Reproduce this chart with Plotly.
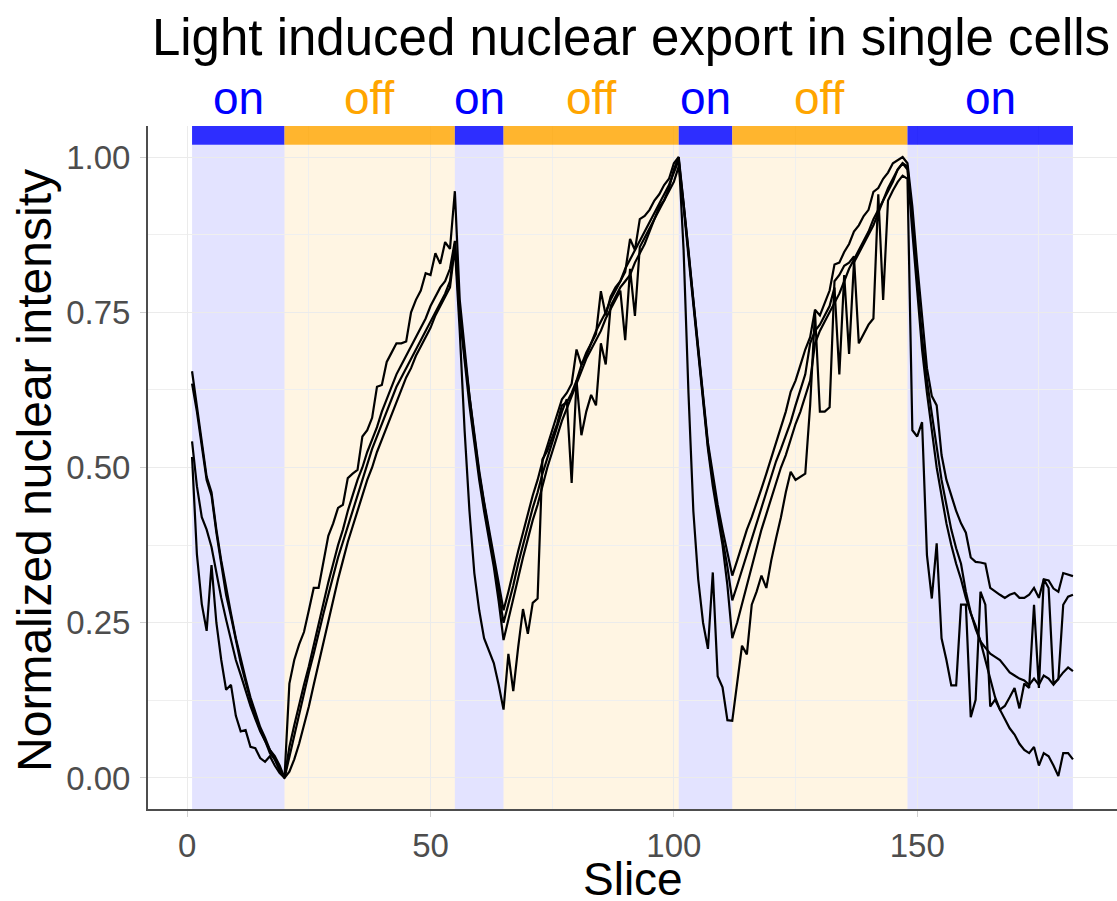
import plotly.graph_objects as go

# ---------------- data ----------------
slices = list(range(1, 183))

cell_1 = [
    0.655, 0.60, 0.54, 0.485, 0.46, 0.40, 0.35, 0.305, 0.265, 0.225,
    0.19, 0.16, 0.13, 0.105, 0.082, 0.065, 0.045, 0.03, 0.015, 0.0,
    0.152, 0.19, 0.215, 0.235, 0.27, 0.306, 0.306, 0.345, 0.39, 0.41,
    0.435, 0.44, 0.483, 0.49, 0.496, 0.55, 0.56, 0.58, 0.63, 0.633,
    0.67, 0.685, 0.70, 0.70, 0.703, 0.75, 0.77, 0.785, 0.813, 0.81,
    0.845, 0.828, 0.863, 0.852, 0.945,
    0.77, 0.69, 0.615, 0.555, 0.495, 0.445, 0.40, 0.36, 0.315, 0.27,
    0.30, 0.335, 0.365, 0.395, 0.425, 0.455, 0.48, 0.51, 0.535, 0.56,
    0.585, 0.61, 0.62, 0.635, 0.69, 0.665, 0.685, 0.70, 0.715, 0.784,
    0.745, 0.775, 0.79, 0.80, 0.815, 0.868, 0.85, 0.90, 0.905, 0.915,
    0.93, 0.94, 0.955, 0.965, 0.99, 1.0,
    0.93, 0.85, 0.77, 0.69, 0.61, 0.54, 0.49, 0.44, 0.40, 0.36, 0.326,
    0.35, 0.375, 0.40, 0.42, 0.445, 0.466, 0.49, 0.515, 0.54, 0.565,
    0.59, 0.622, 0.64, 0.665, 0.69, 0.71, 0.754, 0.745, 0.765, 0.785,
    0.827, 0.83, 0.847, 0.86, 0.88, 0.89, 0.905, 0.915, 0.944, 0.95,
    0.965, 0.975, 0.99, 0.995, 1.0, 0.99,
    0.92, 0.827, 0.74, 0.66, 0.615, 0.60, 0.52, 0.48, 0.455, 0.43,
    0.41, 0.395, 0.355, 0.348, 0.347, 0.345, 0.306, 0.30, 0.295, 0.29,
    0.295, 0.298, 0.29, 0.29, 0.295, 0.306, 0.29, 0.32, 0.318, 0.305,
    0.30, 0.33, 0.328, 0.325,
]

cell_2 = [
    0.635, 0.59, 0.535, 0.48, 0.455, 0.395, 0.345, 0.295, 0.26, 0.22,
    0.185, 0.155, 0.125, 0.10, 0.078, 0.06, 0.045, 0.035, 0.02, 0.0,
    0.05, 0.085, 0.12, 0.15, 0.18, 0.215, 0.25, 0.285, 0.315, 0.345,
    0.375, 0.40, 0.43, 0.455, 0.48, 0.50, 0.525, 0.545, 0.565, 0.59,
    0.61, 0.63, 0.65, 0.665, 0.68, 0.695, 0.71, 0.725, 0.74, 0.76,
    0.775, 0.79, 0.80, 0.82, 0.865,
    0.755, 0.68, 0.61, 0.55, 0.49, 0.44, 0.395, 0.35, 0.30, 0.25,
    0.28, 0.31, 0.345, 0.375, 0.405, 0.435, 0.46, 0.49, 0.515, 0.54,
    0.565, 0.59, 0.61, 0.475, 0.64, 0.665, 0.68, 0.70, 0.72, 0.735,
    0.75, 0.77, 0.785, 0.80, 0.82, 0.835, 0.85, 0.865, 0.88, 0.895,
    0.91, 0.925, 0.94, 0.955, 0.975, 0.995,
    0.925, 0.845, 0.765, 0.685, 0.605, 0.535, 0.48, 0.43, 0.385, 0.34, 0.286,
    0.31, 0.335, 0.36, 0.385, 0.41, 0.435, 0.46, 0.485, 0.51, 0.53,
    0.55, 0.573, 0.60, 0.625, 0.65, 0.70, 0.72, 0.73, 0.745, 0.76,
    0.79, 0.65, 0.81, 0.683, 0.83, 0.845, 0.86, 0.875, 0.89, 0.91,
    0.93, 0.945, 0.96, 0.98, 0.99, 0.985,
    0.90, 0.80, 0.71, 0.64, 0.586, 0.53, 0.48, 0.44, 0.40, 0.37,
    0.345, 0.30, 0.266, 0.24, 0.22, 0.21, 0.20, 0.195, 0.19, 0.18,
    0.17, 0.165, 0.16, 0.157, 0.15, 0.16, 0.15, 0.165, 0.16, 0.15,
    0.16, 0.17, 0.178, 0.172,
]

cell_3 = [
    0.542, 0.47, 0.42, 0.40, 0.372, 0.33, 0.29, 0.255, 0.22, 0.19,
    0.166, 0.14, 0.116, 0.095, 0.075, 0.06, 0.04, 0.03, 0.012, 0.0,
    0.035, 0.07, 0.105, 0.14, 0.17, 0.20, 0.235, 0.265, 0.295, 0.325,
    0.355, 0.38, 0.405, 0.43, 0.455, 0.48, 0.505, 0.53, 0.55, 0.57,
    0.59, 0.61, 0.63, 0.645, 0.66, 0.675, 0.69, 0.705, 0.72, 0.735,
    0.75, 0.765, 0.78, 0.80, 0.86,
    0.745, 0.67, 0.60, 0.54, 0.48, 0.43, 0.385, 0.34, 0.285, 0.222,
    0.255, 0.29, 0.32, 0.355, 0.385, 0.415, 0.44, 0.47, 0.50, 0.525,
    0.55, 0.575, 0.595, 0.615, 0.635, 0.655, 0.675, 0.69, 0.705, 0.72,
    0.74, 0.755, 0.77, 0.785, 0.705, 0.82, 0.744, 0.855, 0.87, 0.885,
    0.90, 0.915, 0.93, 0.945, 0.96, 0.985,
    0.92, 0.84, 0.76, 0.68, 0.60, 0.53, 0.47, 0.42, 0.375, 0.31, 0.225,
    0.25, 0.28, 0.31, 0.34, 0.37, 0.40, 0.425, 0.45, 0.475, 0.50,
    0.52, 0.545, 0.57, 0.59, 0.615, 0.64, 0.70, 0.72, 0.735, 0.75,
    0.765, 0.78, 0.80, 0.82, 0.835, 0.85, 0.865, 0.88, 0.90, 0.915,
    0.93, 0.95, 0.965, 0.98, 0.99, 0.98,
    0.88, 0.78, 0.69, 0.62, 0.56, 0.50, 0.455, 0.41, 0.375, 0.345,
    0.32, 0.29, 0.265, 0.245, 0.22, 0.19, 0.16, 0.13, 0.11, 0.095,
    0.08, 0.07, 0.055, 0.045, 0.04, 0.05, 0.02, 0.04, 0.035, 0.02,
    0.003, 0.04, 0.04, 0.03,
]

cell_4 = [
    0.517, 0.36, 0.28, 0.237, 0.343, 0.25, 0.19, 0.142, 0.15, 0.10,
    0.075, 0.077, 0.05, 0.048, 0.032, 0.026, 0.035, 0.02, 0.008, 0.0,
    0.01, 0.03, 0.055, 0.085, 0.115, 0.15, 0.185, 0.22, 0.255, 0.29,
    0.32, 0.35, 0.38, 0.405, 0.43, 0.455, 0.48, 0.50, 0.525, 0.545,
    0.565, 0.585, 0.605, 0.625, 0.645, 0.66, 0.68, 0.695, 0.71, 0.725,
    0.745, 0.76, 0.775, 0.79, 0.855,
    0.72, 0.56, 0.43, 0.33, 0.27, 0.225, 0.205, 0.185, 0.15, 0.11,
    0.20, 0.14, 0.21, 0.272, 0.232, 0.282, 0.289, 0.513, 0.527, 0.55,
    0.57, 0.60, 0.605, 0.62, 0.64, 0.552, 0.59, 0.617, 0.60, 0.70,
    0.666, 0.76, 0.775, 0.79, 0.80, 0.81, 0.83, 0.845, 0.86, 0.88,
    0.90, 0.92, 0.93, 0.95, 0.98, 1.0,
    0.85, 0.62, 0.43, 0.32, 0.25, 0.208, 0.331, 0.164, 0.146, 0.093, 0.092,
    0.15, 0.213, 0.199, 0.279, 0.30, 0.326, 0.306, 0.35, 0.386, 0.42,
    0.46, 0.493, 0.48, 0.485, 0.49, 0.60, 0.75, 0.59, 0.59, 0.597,
    0.80, 0.81, 0.825, 0.83, 0.84, 0.70, 0.715, 0.73, 0.74, 0.94,
    0.77, 0.93, 0.946, 0.96, 0.97, 0.965,
    0.56, 0.55, 0.573, 0.359, 0.289, 0.378, 0.225, 0.19, 0.149, 0.149,
    0.279, 0.279, 0.098, 0.126, 0.30, 0.279, 0.115, 0.126, 0.11, 0.116,
    0.13, 0.145, 0.112, 0.152, 0.145, 0.279, 0.145, 0.32, 0.306, 0.152,
    0.159, 0.279, 0.292, 0.295,
]

cells = [cell_1, cell_2, cell_3, cell_4]

phase_start = [1, 20, 55, 65, 101, 112, 148]
phase_end = [20, 55, 65, 101, 112, 148, 182]
phase_label = ["on", "off", "on", "off", "on", "off", "on"]

x_ticks = [0, 50, 100, 150]
y_ticks = [0.0, 0.25, 0.5, 0.75, 1.0]
y_tick_text = ["0.00", "0.25", "0.50", "0.75", "1.00"]

title_text = "Light induced nuclear export in single cells"
x_title = "Slice"
y_title = "Normalized nuclear intensity"

# ---------------- style ----------------
FONT = "Liberation Sans"
Y_MIN, Y_MAX = -0.05, 1.05
X_MIN, X_MAX = -8.05, 191.05
BAR_LO, BAR_HI = 1.02, 1.05
LABEL_Y = 1.095
label_paper_y = (LABEL_Y - Y_MIN) / (Y_MAX - Y_MIN)

bar_col = {"on": "rgba(0,0,255,0.82)", "off": "rgba(255,165,0,0.82)"}
bg_col = {"on": "rgba(0,0,255,0.11)", "off": "rgba(255,165,0,0.11)"}
txt_col = {"on": "#0000FF", "off": "#FFA500"}

fig = go.Figure()

for vals in cells:
    fig.add_trace(go.Scatter(
        x=slices, y=vals, mode="lines",
        line=dict(color="black", width=2.2),
        showlegend=False, hoverinfo="skip",
    ))

shapes = []
annotations = []
for s, e, lab in zip(phase_start, phase_end, phase_label):
    shapes.append(dict(type="rect", xref="x", yref="y", x0=s, x1=e,
                       y0=Y_MIN, y1=BAR_LO, fillcolor=bg_col[lab],
                       line=dict(width=0), layer="below"))
    shapes.append(dict(type="rect", xref="x", yref="y", x0=s, x1=e,
                       y0=BAR_LO, y1=BAR_HI, fillcolor=bar_col[lab],
                       line=dict(width=0), layer="above"))
    annotations.append(dict(x=(s + e) / 2, y=label_paper_y,
                            xref="x", yref="paper",
                            text=lab, showarrow=False,
                            font=dict(family=FONT, size=46, color=txt_col[lab]),
                            xanchor="center", yanchor="middle"))

# axis titles as annotations (precise placement)
annotations.append(dict(x=0.5, y=-0.103, xref="paper", yref="paper",
                        text=x_title, showarrow=False,
                        font=dict(family=FONT, size=46, color="black"),
                        xanchor="center", yanchor="middle"))
annotations.append(dict(x=-0.1166, y=0.495, xref="paper", yref="paper",
                        text=y_title, showarrow=False, textangle=-90,
                        font=dict(family=FONT, size=48, color="black"),
                        xanchor="center", yanchor="middle"))

fig.update_layout(
    width=1117, height=901,
    margin=dict(l=148, r=0, t=126, b=92, autoexpand=False),
    paper_bgcolor="white", plot_bgcolor="white",
    font=dict(family=FONT, color="black"),
    title=dict(text=title_text,
               font=dict(family=FONT, size=51, color="black"),
               x=631 / 1117, xanchor="center", xref="container",
               y=1 - 37 / 901, yanchor="middle", yref="container"),
    shapes=shapes, annotations=annotations,
)

fig.update_xaxes(
    range=[X_MIN, X_MAX], tickvals=x_ticks, automargin=False,
    showgrid=True, gridcolor="#EBEBEB", gridwidth=1.4,
    minor=dict(tickvals=[25, 75, 125, 175], showgrid=True,
               gridcolor="#EFEFEF", gridwidth=0.8),
    zeroline=False, showline=True, linecolor="#4D4D4D", linewidth=2,
    ticks="outside", ticklen=6, tickcolor="#D0D0D0", tickwidth=1,
    tickfont=dict(family=FONT, size=33, color="#4D4D4D"),
)
fig.update_yaxes(
    range=[Y_MIN, Y_MAX], tickvals=y_ticks, ticktext=y_tick_text,
    automargin=False,
    showgrid=True, gridcolor="#EBEBEB", gridwidth=1.4,
    minor=dict(tickvals=[0.125, 0.375, 0.625, 0.875], showgrid=True,
               gridcolor="#EFEFEF", gridwidth=0.8),
    zeroline=False, showline=True, linecolor="#4D4D4D", linewidth=2,
    ticks="outside", ticklen=6, tickcolor="#D0D0D0", tickwidth=1,
    ticklabelstandoff=3,
    tickfont=dict(family=FONT, size=33, color="#4D4D4D"),
)

fig.write_html("out.html",
               config={"displayModeBar": False},
               post_script="document.body.style.margin='0px';")
